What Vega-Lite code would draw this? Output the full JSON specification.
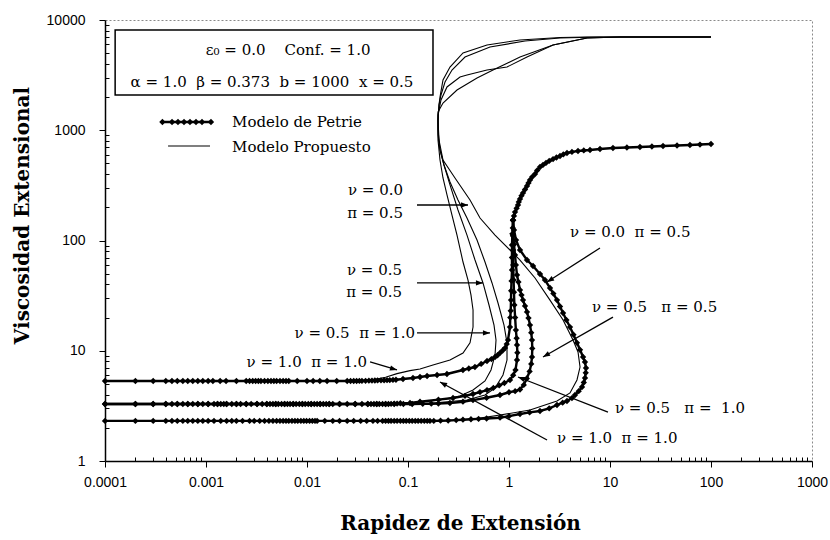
{
  "$schema": "https://vega.github.io/schema/vega-lite/v6.json",
  "width": 707,
  "height": 441,
  "autosize": {"type": "none"},
  "padding": {"left": 105, "top": 20, "right": 18, "bottom": 79},
  "background": "white",
  "config": {
    "view": {"stroke": "#8a8a8a", "strokeDash": [2, 2], "strokeWidth": 1},
    "axis": {"domainColor": "black", "tickColor": "black", "labelColor": "black", "titleColor": "black", "grid": false}
  },
  "datasets": {
    "curvas": [
      {"id":"T1","m":"Petrie","x":0.0001,"y":5.32},{"id":"T1","m":"Petrie","x":0.0002,"y":5.32},{"id":"T1","m":"Petrie","x":0.0003,"y":5.32},{"id":"T1","m":"Petrie","x":0.0004,"y":5.32},{"id":"T1","m":"Petrie","x":0.00046,"y":5.32},{"id":"T1","m":"Petrie","x":0.00052,"y":5.32},{"id":"T1","m":"Petrie","x":0.00059,"y":5.32},{"id":"T1","m":"Petrie","x":0.00066,"y":5.32},{"id":"T1","m":"Petrie","x":0.00074,"y":5.32},{"id":"T1","m":"Petrie","x":0.00083,"y":5.32},{"id":"T1","m":"Petrie","x":0.00093,"y":5.32},{"id":"T1","m":"Petrie","x":0.00105,"y":5.32},{"id":"T1","m":"Petrie","x":0.00117,"y":5.32},{"id":"T1","m":"Petrie","x":0.00138,"y":5.32},{"id":"T1","m":"Petrie","x":0.00158,"y":5.32},{"id":"T1","m":"Petrie","x":0.002,"y":5.32},
      {"id":"T1","m":"Petrie","x":0.0025,"y":5.32},{"id":"T1","m":"Petrie","x":0.0027,"y":5.32},{"id":"T1","m":"Petrie","x":0.0029,"y":5.32},{"id":"T1","m":"Petrie","x":0.0031,"y":5.32},{"id":"T1","m":"Petrie","x":0.0033,"y":5.32},{"id":"T1","m":"Petrie","x":0.0035,"y":5.32},{"id":"T1","m":"Petrie","x":0.0038,"y":5.32},{"id":"T1","m":"Petrie","x":0.0041,"y":5.32},{"id":"T1","m":"Petrie","x":0.0044,"y":5.32},{"id":"T1","m":"Petrie","x":0.0047,"y":5.32},{"id":"T1","m":"Petrie","x":0.005,"y":5.32},{"id":"T1","m":"Petrie","x":0.0054,"y":5.32},{"id":"T1","m":"Petrie","x":0.0058,"y":5.32},{"id":"T1","m":"Petrie","x":0.0062,"y":5.32},{"id":"T1","m":"Petrie","x":0.0066,"y":5.32},
      {"id":"T1","m":"Petrie","x":0.008,"y":5.32},{"id":"T1","m":"Petrie","x":0.01,"y":5.32},{"id":"T1","m":"Petrie","x":0.0115,"y":5.32},{"id":"T1","m":"Petrie","x":0.0134,"y":5.32},{"id":"T1","m":"Petrie","x":0.0158,"y":5.32},{"id":"T1","m":"Petrie","x":0.0197,"y":5.32},
      {"id":"T1","m":"Petrie","x":0.025,"y":5.32},{"id":"T1","m":"Petrie","x":0.027,"y":5.32},{"id":"T1","m":"Petrie","x":0.029,"y":5.32},{"id":"T1","m":"Petrie","x":0.031,"y":5.32},{"id":"T1","m":"Petrie","x":0.033,"y":5.33},{"id":"T1","m":"Petrie","x":0.035,"y":5.33},{"id":"T1","m":"Petrie","x":0.038,"y":5.34},{"id":"T1","m":"Petrie","x":0.041,"y":5.35},{"id":"T1","m":"Petrie","x":0.044,"y":5.36},{"id":"T1","m":"Petrie","x":0.047,"y":5.37},{"id":"T1","m":"Petrie","x":0.05,"y":5.38},{"id":"T1","m":"Petrie","x":0.054,"y":5.39},{"id":"T1","m":"Petrie","x":0.058,"y":5.4},{"id":"T1","m":"Petrie","x":0.062,"y":5.41},{"id":"T1","m":"Petrie","x":0.066,"y":5.42},{"id":"T1","m":"Petrie","x":0.071,"y":5.44},{"id":"T1","m":"Petrie","x":0.076,"y":5.46},
      {"id":"T1","m":"Petrie","x":0.0892,"y":5.54},{"id":"T1","m":"Petrie","x":0.112,"y":5.66},{"id":"T1","m":"Petrie","x":0.1315,"y":5.78},{"id":"T1","m":"Petrie","x":0.1545,"y":5.9},{"id":"T1","m":"Petrie","x":0.194,"y":6.03},{"id":"T1","m":"Petrie","x":0.243,"y":6.15},{"id":"T1","m":"Petrie","x":0.35,"y":6.69},{"id":"T1","m":"Petrie","x":0.4,"y":6.9},{"id":"T1","m":"Petrie","x":0.46,"y":7.12},{"id":"T1","m":"Petrie","x":0.53,"y":7.6},{"id":"T1","m":"Petrie","x":0.606,"y":8.07},{"id":"T1","m":"Petrie","x":0.67,"y":8.4},{"id":"T1","m":"Petrie","x":0.727,"y":8.78},{"id":"T1","m":"Petrie","x":0.77,"y":9.1},{"id":"T1","m":"Petrie","x":0.815,"y":9.55},{"id":"T1","m":"Petrie","x":0.87,"y":10.1},{"id":"T1","m":"Petrie","x":0.913,"y":10.6},{"id":"T1","m":"Petrie","x":0.95,"y":11.5},{"id":"T1","m":"Petrie","x":0.977,"y":12.5},{"id":"T1","m":"Petrie","x":1.023,"y":16.4},{"id":"T1","m":"Petrie","x":1.03,"y":20},{"id":"T1","m":"Petrie","x":1.04,"y":23},{"id":"T1","m":"Petrie","x":1.047,"y":28.8},{"id":"T1","m":"Petrie","x":1.05,"y":35},{"id":"T1","m":"Petrie","x":1.06,"y":43},{"id":"T1","m":"Petrie","x":1.071,"y":54},{"id":"T1","m":"Petrie","x":1.07,"y":70},{"id":"T1","m":"Petrie","x":1.071,"y":91},{"id":"T1","m":"Petrie","x":1.08,"y":115},{"id":"T1","m":"Petrie","x":1.09,"y":130},{"id":"T1","m":"Petrie","x":1.096,"y":153},
      {"id":"T1","m":"Petrie","x":1.12,"y":167},{"id":"T1","m":"Petrie","x":1.147,"y":181},{"id":"T1","m":"Petrie","x":1.19,"y":196},{"id":"T1","m":"Petrie","x":1.228,"y":210},{"id":"T1","m":"Petrie","x":1.25,"y":224},{"id":"T1","m":"Petrie","x":1.285,"y":238},{"id":"T1","m":"Petrie","x":1.33,"y":255},{"id":"T1","m":"Petrie","x":1.376,"y":270},{"id":"T1","m":"Petrie","x":1.44,"y":290},{"id":"T1","m":"Petrie","x":1.507,"y":312},{"id":"T1","m":"Petrie","x":1.56,"y":333},{"id":"T1","m":"Petrie","x":1.614,"y":354},{"id":"T1","m":"Petrie","x":1.7,"y":378},{"id":"T1","m":"Petrie","x":1.81,"y":401},{"id":"T1","m":"Petrie","x":1.9,"y":432},{"id":"T1","m":"Petrie","x":2.027,"y":464},{"id":"T1","m":"Petrie","x":2.17,"y":485},{"id":"T1","m":"Petrie","x":2.324,"y":505},{"id":"T1","m":"Petrie","x":2.5,"y":527},{"id":"T1","m":"Petrie","x":2.73,"y":548},{"id":"T1","m":"Petrie","x":2.95,"y":566},{"id":"T1","m":"Petrie","x":3.2,"y":584},{"id":"T1","m":"Petrie","x":3.45,"y":604},{"id":"T1","m":"Petrie","x":3.75,"y":622},{"id":"T1","m":"Petrie","x":4.2,"y":636},{"id":"T1","m":"Petrie","x":4.82,"y":648},{"id":"T1","m":"Petrie","x":5.5,"y":656},{"id":"T1","m":"Petrie","x":6.34,"y":662},{"id":"T1","m":"Petrie","x":7.96,"y":676},{"id":"T1","m":"Petrie","x":10.7,"y":690},{"id":"T1","m":"Petrie","x":14.7,"y":698},{"id":"T1","m":"Petrie","x":19.8,"y":705},{"id":"T1","m":"Petrie","x":26,"y":712},{"id":"T1","m":"Petrie","x":33.5,"y":720},{"id":"T1","m":"Petrie","x":46.1,"y":727},{"id":"T1","m":"Petrie","x":61.9,"y":735},{"id":"T1","m":"Petrie","x":77.8,"y":742},{"id":"T1","m":"Petrie","x":100,"y":750},

      {"id":"T2","m":"Petrie","x":0.0001,"y":3.29},{"id":"T2","m":"Petrie","x":0.0002,"y":3.29},{"id":"T2","m":"Petrie","x":0.0003,"y":3.29},{"id":"T2","m":"Petrie","x":0.0004,"y":3.29},{"id":"T2","m":"Petrie","x":0.00046,"y":3.29},{"id":"T2","m":"Petrie","x":0.00052,"y":3.29},{"id":"T2","m":"Petrie","x":0.00059,"y":3.29},{"id":"T2","m":"Petrie","x":0.00066,"y":3.29},{"id":"T2","m":"Petrie","x":0.00074,"y":3.29},{"id":"T2","m":"Petrie","x":0.00083,"y":3.29},{"id":"T2","m":"Petrie","x":0.00093,"y":3.29},{"id":"T2","m":"Petrie","x":0.00105,"y":3.29},{"id":"T2","m":"Petrie","x":0.0012,"y":3.29},{"id":"T2","m":"Petrie","x":0.0013,"y":3.29},{"id":"T2","m":"Petrie","x":0.0014,"y":3.29},{"id":"T2","m":"Petrie","x":0.0015,"y":3.29},{"id":"T2","m":"Petrie","x":0.0016,"y":3.29},{"id":"T2","m":"Petrie","x":0.0018,"y":3.29},{"id":"T2","m":"Petrie","x":0.002,"y":3.29},{"id":"T2","m":"Petrie","x":0.0022,"y":3.29},{"id":"T2","m":"Petrie","x":0.0025,"y":3.29},{"id":"T2","m":"Petrie","x":0.0028,"y":3.29},{"id":"T2","m":"Petrie","x":0.0032,"y":3.29},{"id":"T2","m":"Petrie","x":0.0036,"y":3.29},
      {"id":"T2","m":"Petrie","x":0.004,"y":3.29},{"id":"T2","m":"Petrie","x":0.0043,"y":3.29},{"id":"T2","m":"Petrie","x":0.0046,"y":3.29},{"id":"T2","m":"Petrie","x":0.0049,"y":3.29},{"id":"T2","m":"Petrie","x":0.0052,"y":3.29},{"id":"T2","m":"Petrie","x":0.0056,"y":3.29},{"id":"T2","m":"Petrie","x":0.006,"y":3.29},{"id":"T2","m":"Petrie","x":0.0064,"y":3.29},{"id":"T2","m":"Petrie","x":0.0068,"y":3.29},{"id":"T2","m":"Petrie","x":0.0073,"y":3.29},{"id":"T2","m":"Petrie","x":0.0078,"y":3.29},{"id":"T2","m":"Petrie","x":0.0084,"y":3.29},{"id":"T2","m":"Petrie","x":0.009,"y":3.29},{"id":"T2","m":"Petrie","x":0.0096,"y":3.29},{"id":"T2","m":"Petrie","x":0.0103,"y":3.29},{"id":"T2","m":"Petrie","x":0.011,"y":3.29},{"id":"T2","m":"Petrie","x":0.0118,"y":3.29},{"id":"T2","m":"Petrie","x":0.0126,"y":3.29},{"id":"T2","m":"Petrie","x":0.0135,"y":3.29},{"id":"T2","m":"Petrie","x":0.0145,"y":3.29},{"id":"T2","m":"Petrie","x":0.0155,"y":3.29},{"id":"T2","m":"Petrie","x":0.0166,"y":3.29},{"id":"T2","m":"Petrie","x":0.018,"y":3.29},
      {"id":"T2","m":"Petrie","x":0.021,"y":3.29},{"id":"T2","m":"Petrie","x":0.025,"y":3.29},{"id":"T2","m":"Petrie","x":0.03,"y":3.29},{"id":"T2","m":"Petrie","x":0.035,"y":3.29},{"id":"T2","m":"Petrie","x":0.04,"y":3.29},{"id":"T2","m":"Petrie","x":0.043,"y":3.29},{"id":"T2","m":"Petrie","x":0.046,"y":3.29},{"id":"T2","m":"Petrie","x":0.049,"y":3.29},{"id":"T2","m":"Petrie","x":0.052,"y":3.29},{"id":"T2","m":"Petrie","x":0.056,"y":3.29},{"id":"T2","m":"Petrie","x":0.06,"y":3.29},{"id":"T2","m":"Petrie","x":0.064,"y":3.29},{"id":"T2","m":"Petrie","x":0.068,"y":3.3},{"id":"T2","m":"Petrie","x":0.073,"y":3.31},{"id":"T2","m":"Petrie","x":0.078,"y":3.32},{"id":"T2","m":"Petrie","x":0.084,"y":3.34},
      {"id":"T2","m":"Petrie","x":0.1047,"y":3.36},{"id":"T2","m":"Petrie","x":0.1315,"y":3.45},{"id":"T2","m":"Petrie","x":0.2,"y":3.6},{"id":"T2","m":"Petrie","x":0.279,"y":3.73},{"id":"T2","m":"Petrie","x":0.367,"y":3.9},{"id":"T2","m":"Petrie","x":0.44,"y":4.05},{"id":"T2","m":"Petrie","x":0.516,"y":4.22},{"id":"T2","m":"Petrie","x":0.606,"y":4.4},{"id":"T2","m":"Petrie","x":0.7,"y":4.6},{"id":"T2","m":"Petrie","x":0.8,"y":4.85},{"id":"T2","m":"Petrie","x":0.9,"y":5.1},{"id":"T2","m":"Petrie","x":1.023,"y":5.43},{"id":"T2","m":"Petrie","x":1.1,"y":6.0},{"id":"T2","m":"Petrie","x":1.16,"y":6.69},{"id":"T2","m":"Petrie","x":1.2,"y":8.24},{"id":"T2","m":"Petrie","x":1.21,"y":9.6},{"id":"T2","m":"Petrie","x":1.2,"y":11.3},{"id":"T2","m":"Petrie","x":1.19,"y":13},{"id":"T2","m":"Petrie","x":1.17,"y":15.4},{"id":"T2","m":"Petrie","x":1.15,"y":20},{"id":"T2","m":"Petrie","x":1.13,"y":26},{"id":"T2","m":"Petrie","x":1.12,"y":34},{"id":"T2","m":"Petrie","x":1.11,"y":43.8},{"id":"T2","m":"Petrie","x":1.1,"y":60},{"id":"T2","m":"Petrie","x":1.096,"y":82},{"id":"T2","m":"Petrie","x":1.096,"y":110},{"id":"T2","m":"Petrie","x":1.096,"y":153},

      {"id":"T3","m":"Petrie","x":0.0001,"y":3.29},{"id":"T3","m":"Petrie","x":0.0002,"y":3.29},{"id":"T3","m":"Petrie","x":0.0003,"y":3.29},{"id":"T3","m":"Petrie","x":0.0004,"y":3.29},{"id":"T3","m":"Petrie","x":0.00052,"y":3.29},{"id":"T3","m":"Petrie","x":0.00066,"y":3.29},{"id":"T3","m":"Petrie","x":0.00083,"y":3.29},{"id":"T3","m":"Petrie","x":0.00105,"y":3.29},{"id":"T3","m":"Petrie","x":0.0013,"y":3.29},{"id":"T3","m":"Petrie","x":0.0016,"y":3.29},{"id":"T3","m":"Petrie","x":0.002,"y":3.29},{"id":"T3","m":"Petrie","x":0.0025,"y":3.29},{"id":"T3","m":"Petrie","x":0.0032,"y":3.29},{"id":"T3","m":"Petrie","x":0.004,"y":3.29},{"id":"T3","m":"Petrie","x":0.0049,"y":3.29},{"id":"T3","m":"Petrie","x":0.006,"y":3.29},{"id":"T3","m":"Petrie","x":0.0073,"y":3.29},{"id":"T3","m":"Petrie","x":0.009,"y":3.29},{"id":"T3","m":"Petrie","x":0.011,"y":3.29},{"id":"T3","m":"Petrie","x":0.0135,"y":3.29},{"id":"T3","m":"Petrie","x":0.0166,"y":3.29},{"id":"T3","m":"Petrie","x":0.021,"y":3.29},{"id":"T3","m":"Petrie","x":0.03,"y":3.29},{"id":"T3","m":"Petrie","x":0.04,"y":3.29},{"id":"T3","m":"Petrie","x":0.049,"y":3.29},{"id":"T3","m":"Petrie","x":0.06,"y":3.29},{"id":"T3","m":"Petrie","x":0.073,"y":3.29},{"id":"T3","m":"Petrie","x":0.09,"y":3.29},{"id":"T3","m":"Petrie","x":0.11,"y":3.29},{"id":"T3","m":"Petrie","x":0.14,"y":3.3},{"id":"T3","m":"Petrie","x":0.17,"y":3.31},{"id":"T3","m":"Petrie","x":0.2,"y":3.32},
      {"id":"T3","m":"Petrie","x":0.26,"y":3.36},{"id":"T3","m":"Petrie","x":0.35,"y":3.45},{"id":"T3","m":"Petrie","x":0.44,"y":3.57},{"id":"T3","m":"Petrie","x":0.6,"y":3.75},{"id":"T3","m":"Petrie","x":0.815,"y":3.97},{"id":"T3","m":"Petrie","x":1.0,"y":4.2},{"id":"T3","m":"Petrie","x":1.15,"y":4.3},{"id":"T3","m":"Petrie","x":1.285,"y":4.45},{"id":"T3","m":"Petrie","x":1.4,"y":4.9},{"id":"T3","m":"Petrie","x":1.5,"y":5.6},{"id":"T3","m":"Petrie","x":1.6,"y":6.5},{"id":"T3","m":"Petrie","x":1.66,"y":7.6},{"id":"T3","m":"Petrie","x":1.69,"y":8.78},{"id":"T3","m":"Petrie","x":1.7,"y":10.5},{"id":"T3","m":"Petrie","x":1.69,"y":12.5},{"id":"T3","m":"Petrie","x":1.66,"y":14.6},{"id":"T3","m":"Petrie","x":1.614,"y":17.1},{"id":"T3","m":"Petrie","x":1.56,"y":19.8},{"id":"T3","m":"Petrie","x":1.507,"y":22.5},{"id":"T3","m":"Petrie","x":1.44,"y":25.5},{"id":"T3","m":"Petrie","x":1.376,"y":28.8},{"id":"T3","m":"Petrie","x":1.33,"y":32},{"id":"T3","m":"Petrie","x":1.285,"y":35.6},{"id":"T3","m":"Petrie","x":1.24,"y":42},{"id":"T3","m":"Petrie","x":1.2,"y":48.7},{"id":"T3","m":"Petrie","x":1.17,"y":60},{"id":"T3","m":"Petrie","x":1.147,"y":74},{"id":"T3","m":"Petrie","x":1.12,"y":92},{"id":"T3","m":"Petrie","x":1.096,"y":112},{"id":"T3","m":"Petrie","x":1.096,"y":153},

      {"id":"T4","m":"Petrie","x":0.0001,"y":2.31},{"id":"T4","m":"Petrie","x":0.0002,"y":2.31},{"id":"T4","m":"Petrie","x":0.0003,"y":2.31},{"id":"T4","m":"Petrie","x":0.0004,"y":2.31},{"id":"T4","m":"Petrie","x":0.00046,"y":2.31},{"id":"T4","m":"Petrie","x":0.00052,"y":2.31},{"id":"T4","m":"Petrie","x":0.00059,"y":2.31},{"id":"T4","m":"Petrie","x":0.00066,"y":2.31},{"id":"T4","m":"Petrie","x":0.00074,"y":2.31},{"id":"T4","m":"Petrie","x":0.00083,"y":2.31},{"id":"T4","m":"Petrie","x":0.00093,"y":2.31},{"id":"T4","m":"Petrie","x":0.00105,"y":2.31},{"id":"T4","m":"Petrie","x":0.0012,"y":2.31},{"id":"T4","m":"Petrie","x":0.0014,"y":2.31},{"id":"T4","m":"Petrie","x":0.0016,"y":2.31},{"id":"T4","m":"Petrie","x":0.0018,"y":2.31},{"id":"T4","m":"Petrie","x":0.002,"y":2.31},{"id":"T4","m":"Petrie","x":0.0023,"y":2.31},{"id":"T4","m":"Petrie","x":0.0027,"y":2.31},{"id":"T4","m":"Petrie","x":0.003,"y":2.31},{"id":"T4","m":"Petrie","x":0.0034,"y":2.31},{"id":"T4","m":"Petrie","x":0.0038,"y":2.31},{"id":"T4","m":"Petrie","x":0.0042,"y":2.31},{"id":"T4","m":"Petrie","x":0.0046,"y":2.31},{"id":"T4","m":"Petrie","x":0.005,"y":2.31},
      {"id":"T4","m":"Petrie","x":0.0054,"y":2.31},{"id":"T4","m":"Petrie","x":0.0058,"y":2.31},{"id":"T4","m":"Petrie","x":0.0062,"y":2.31},{"id":"T4","m":"Petrie","x":0.0066,"y":2.31},{"id":"T4","m":"Petrie","x":0.0071,"y":2.31},{"id":"T4","m":"Petrie","x":0.0076,"y":2.31},{"id":"T4","m":"Petrie","x":0.0081,"y":2.31},{"id":"T4","m":"Petrie","x":0.0087,"y":2.31},{"id":"T4","m":"Petrie","x":0.0093,"y":2.31},{"id":"T4","m":"Petrie","x":0.0099,"y":2.31},{"id":"T4","m":"Petrie","x":0.0106,"y":2.31},{"id":"T4","m":"Petrie","x":0.0113,"y":2.31},{"id":"T4","m":"Petrie","x":0.012,"y":2.31},{"id":"T4","m":"Petrie","x":0.0126,"y":2.31},{"id":"T4","m":"Petrie","x":0.015,"y":2.31},{"id":"T4","m":"Petrie","x":0.018,"y":2.31},{"id":"T4","m":"Petrie","x":0.021,"y":2.31},{"id":"T4","m":"Petrie","x":0.025,"y":2.31},{"id":"T4","m":"Petrie","x":0.029,"y":2.31},{"id":"T4","m":"Petrie","x":0.034,"y":2.31},{"id":"T4","m":"Petrie","x":0.039,"y":2.31},{"id":"T4","m":"Petrie","x":0.045,"y":2.31},{"id":"T4","m":"Petrie","x":0.05,"y":2.31},
      {"id":"T4","m":"Petrie","x":0.056,"y":2.31},{"id":"T4","m":"Petrie","x":0.06,"y":2.31},{"id":"T4","m":"Petrie","x":0.064,"y":2.31},{"id":"T4","m":"Petrie","x":0.068,"y":2.31},{"id":"T4","m":"Petrie","x":0.073,"y":2.31},{"id":"T4","m":"Petrie","x":0.078,"y":2.31},{"id":"T4","m":"Petrie","x":0.084,"y":2.31},{"id":"T4","m":"Petrie","x":0.09,"y":2.31},{"id":"T4","m":"Petrie","x":0.096,"y":2.31},{"id":"T4","m":"Petrie","x":0.103,"y":2.31},{"id":"T4","m":"Petrie","x":0.11,"y":2.31},{"id":"T4","m":"Petrie","x":0.118,"y":2.31},{"id":"T4","m":"Petrie","x":0.126,"y":2.31},{"id":"T4","m":"Petrie","x":0.135,"y":2.31},{"id":"T4","m":"Petrie","x":0.145,"y":2.31},{"id":"T4","m":"Petrie","x":0.155,"y":2.31},{"id":"T4","m":"Petrie","x":0.165,"y":2.31},{"id":"T4","m":"Petrie","x":0.18,"y":2.31},{"id":"T4","m":"Petrie","x":0.21,"y":2.32},{"id":"T4","m":"Petrie","x":0.25,"y":2.33},{"id":"T4","m":"Petrie","x":0.3,"y":2.35},{"id":"T4","m":"Petrie","x":0.35,"y":2.37},{"id":"T4","m":"Petrie","x":0.42,"y":2.39},{"id":"T4","m":"Petrie","x":0.5,"y":2.41},
      {"id":"T4","m":"Petrie","x":0.6,"y":2.43},{"id":"T4","m":"Petrie","x":0.815,"y":2.47},{"id":"T4","m":"Petrie","x":1.0,"y":2.55},{"id":"T4","m":"Petrie","x":1.285,"y":2.67},{"id":"T4","m":"Petrie","x":1.6,"y":2.76},{"id":"T4","m":"Petrie","x":2.027,"y":2.84},{"id":"T4","m":"Petrie","x":2.5,"y":3.0},{"id":"T4","m":"Petrie","x":2.987,"y":3.22},{"id":"T4","m":"Petrie","x":3.4,"y":3.38},{"id":"T4","m":"Petrie","x":3.75,"y":3.5},{"id":"T4","m":"Petrie","x":4.2,"y":3.72},{"id":"T4","m":"Petrie","x":4.504,"y":3.97},{"id":"T4","m":"Petrie","x":4.9,"y":4.3},{"id":"T4","m":"Petrie","x":5.28,"y":4.69},{"id":"T4","m":"Petrie","x":5.5,"y":5.15},{"id":"T4","m":"Petrie","x":5.656,"y":5.66},{"id":"T4","m":"Petrie","x":5.75,"y":6.3},{"id":"T4","m":"Petrie","x":5.787,"y":6.98},{"id":"T4","m":"Petrie","x":5.65,"y":7.9},{"id":"T4","m":"Petrie","x":5.41,"y":8.78},{"id":"T4","m":"Petrie","x":5.05,"y":10.2},{"id":"T4","m":"Petrie","x":4.71,"y":11.8},{"id":"T4","m":"Petrie","x":4.35,"y":14},{"id":"T4","m":"Petrie","x":4.018,"y":16.4},{"id":"T4","m":"Petrie","x":3.7,"y":19},{"id":"T4","m":"Petrie","x":3.43,"y":22},{"id":"T4","m":"Petrie","x":3.2,"y":25.2},{"id":"T4","m":"Petrie","x":2.987,"y":28.8},{"id":"T4","m":"Petrie","x":2.75,"y":33},{"id":"T4","m":"Petrie","x":2.546,"y":37.1},{"id":"T4","m":"Petrie","x":2.27,"y":43.8},{"id":"T4","m":"Petrie","x":2.027,"y":49.7},{"id":"T4","m":"Petrie","x":1.73,"y":58.7},{"id":"T4","m":"Petrie","x":1.507,"y":66.5},{"id":"T4","m":"Petrie","x":1.285,"y":82},{"id":"T4","m":"Petrie","x":1.173,"y":101},{"id":"T4","m":"Petrie","x":1.121,"y":124.5},{"id":"T4","m":"Petrie","x":1.096,"y":153},

      {"id":"R1","m":"Propuesto","x":0.0001,"y":5.32},{"id":"R1","m":"Propuesto","x":0.035,"y":5.32},{"id":"R1","m":"Propuesto","x":0.045,"y":5.45},{"id":"R1","m":"Propuesto","x":0.06,"y":5.75},{"id":"R1","m":"Propuesto","x":0.0778,"y":6.2},{"id":"R1","m":"Propuesto","x":0.1047,"y":6.6},{"id":"R1","m":"Propuesto","x":0.1315,"y":6.84},{"id":"R1","m":"Propuesto","x":0.1768,"y":7.43},{"id":"R1","m":"Propuesto","x":0.2605,"y":8.24},{"id":"R1","m":"Propuesto","x":0.3505,"y":9.55},{"id":"R1","m":"Propuesto","x":0.4111,"y":11.8},{"id":"R1","m":"Propuesto","x":0.4405,"y":16.4},{"id":"R1","m":"Propuesto","x":0.4405,"y":23.4},{"id":"R1","m":"Propuesto","x":0.4206,"y":32},{"id":"R1","m":"Propuesto","x":0.3927,"y":43.8},{"id":"R1","m":"Propuesto","x":0.3505,"y":63.8},{"id":"R1","m":"Propuesto","x":0.3056,"y":112},{"id":"R1","m":"Propuesto","x":0.2726,"y":170},{"id":"R1","m":"Propuesto","x":0.2433,"y":259},{"id":"R1","m":"Propuesto","x":0.2221,"y":369},{"id":"R1","m":"Propuesto","x":0.2074,"y":537},{"id":"R1","m":"Propuesto","x":0.1982,"y":816},{"id":"R1","m":"Propuesto","x":0.1982,"y":1239},{"id":"R1","m":"Propuesto","x":0.2027,"y":1694},{"id":"R1","m":"Propuesto","x":0.2074,"y":2002},{"id":"R1","m":"Propuesto","x":0.2221,"y":2856},{"id":"R1","m":"Propuesto","x":0.2605,"y":3747},{"id":"R1","m":"Propuesto","x":0.3505,"y":5020},{"id":"R1","m":"Propuesto","x":0.6057,"y":5934},{"id":"R1","m":"Propuesto","x":1.285,"y":6586},{"id":"R1","m":"Propuesto","x":3.199,"y":6940},{"id":"R1","m":"Propuesto","x":5.92,"y":7012},{"id":"R1","m":"Propuesto","x":100,"y":7012},

      {"id":"R2","m":"Propuesto","x":0.0001,"y":3.29},{"id":"R2","m":"Propuesto","x":0.08,"y":3.29},{"id":"R2","m":"Propuesto","x":0.1315,"y":3.43},{"id":"R2","m":"Propuesto","x":0.2074,"y":3.57},{"id":"R2","m":"Propuesto","x":0.3272,"y":3.89},{"id":"R2","m":"Propuesto","x":0.4405,"y":4.4},{"id":"R2","m":"Propuesto","x":0.5787,"y":5.32},{"id":"R2","m":"Propuesto","x":0.6636,"y":6.69},{"id":"R2","m":"Propuesto","x":0.727,"y":9.15},{"id":"R2","m":"Propuesto","x":0.7438,"y":12.5},{"id":"R2","m":"Propuesto","x":0.7106,"y":17.1},{"id":"R2","m":"Propuesto","x":0.6339,"y":26},{"id":"R2","m":"Propuesto","x":0.5529,"y":41.2},{"id":"R2","m":"Propuesto","x":0.4608,"y":66.5},{"id":"R2","m":"Propuesto","x":0.3838,"y":112},{"id":"R2","m":"Propuesto","x":0.3126,"y":189},{"id":"R2","m":"Propuesto","x":0.2605,"y":319},{"id":"R2","m":"Propuesto","x":0.2272,"y":484},{"id":"R2","m":"Propuesto","x":0.2074,"y":662},{"id":"R2","m":"Propuesto","x":0.1982,"y":906},{"id":"R2","m":"Propuesto","x":0.1982,"y":1375},{"id":"R2","m":"Propuesto","x":0.2122,"y":1881},{"id":"R2","m":"Propuesto","x":0.2433,"y":2469},{"id":"R2","m":"Propuesto","x":0.3272,"y":3041},{"id":"R2","m":"Propuesto","x":0.3838,"y":3171},{"id":"R2","m":"Propuesto","x":0.6057,"y":3520},{"id":"R2","m":"Propuesto","x":0.9555,"y":3747},{"id":"R2","m":"Propuesto","x":1.507,"y":4617},{"id":"R2","m":"Propuesto","x":2.73,"y":5934},{"id":"R2","m":"Propuesto","x":5.92,"y":6867},{"id":"R2","m":"Propuesto","x":12.6,"y":7012},{"id":"R2","m":"Propuesto","x":100,"y":7012},

      {"id":"R3","m":"Propuesto","x":0.0001,"y":3.29},{"id":"R3","m":"Propuesto","x":0.1047,"y":3.29},{"id":"R3","m":"Propuesto","x":0.1768,"y":3.36},{"id":"R3","m":"Propuesto","x":0.3838,"y":3.57},{"id":"R3","m":"Propuesto","x":0.5787,"y":3.97},{"id":"R3","m":"Propuesto","x":0.727,"y":4.59},{"id":"R3","m":"Propuesto","x":0.8721,"y":6.03},{"id":"R3","m":"Propuesto","x":0.9555,"y":8.24},{"id":"R3","m":"Propuesto","x":0.9555,"y":11.8},{"id":"R3","m":"Propuesto","x":0.8923,"y":17.1},{"id":"R3","m":"Propuesto","x":0.7784,"y":27.1},{"id":"R3","m":"Propuesto","x":0.679,"y":41.2},{"id":"R3","m":"Propuesto","x":0.5787,"y":63.8},{"id":"R3","m":"Propuesto","x":0.4823,"y":101},{"id":"R3","m":"Propuesto","x":0.3838,"y":160},{"id":"R3","m":"Propuesto","x":0.3126,"y":233},{"id":"R3","m":"Propuesto","x":0.2605,"y":339},{"id":"R3","m":"Propuesto","x":0.2272,"y":484},{"id":"R3","m":"Propuesto","x":0.2074,"y":662},{"id":"R3","m":"Propuesto","x":0.1982,"y":1005},{"id":"R3","m":"Propuesto","x":0.1982,"y":1464},{"id":"R3","m":"Propuesto","x":0.2221,"y":1767},{"id":"R3","m":"Propuesto","x":0.3056,"y":2318},{"id":"R3","m":"Propuesto","x":0.4823,"y":2978},{"id":"R3","m":"Propuesto","x":0.6946,"y":3520},{"id":"R3","m":"Propuesto","x":1.285,"y":4617},{"id":"R3","m":"Propuesto","x":2.73,"y":5934},{"id":"R3","m":"Propuesto","x":5.92,"y":6867},{"id":"R3","m":"Propuesto","x":12.6,"y":7012},{"id":"R3","m":"Propuesto","x":100,"y":7012},

      {"id":"R4","m":"Propuesto","x":0.0001,"y":2.31},{"id":"R4","m":"Propuesto","x":0.3,"y":2.33},{"id":"R4","m":"Propuesto","x":0.5164,"y":2.45},{"id":"R4","m":"Propuesto","x":0.8146,"y":2.61},{"id":"R4","m":"Propuesto","x":1.614,"y":2.9},{"id":"R4","m":"Propuesto","x":2.987,"y":3.5},{"id":"R4","m":"Propuesto","x":4.018,"y":4.14},{"id":"R4","m":"Propuesto","x":4.71,"y":5.43},{"id":"R4","m":"Propuesto","x":5.05,"y":7.12},{"id":"R4","m":"Propuesto","x":4.823,"y":9.74},{"id":"R4","m":"Propuesto","x":4.303,"y":12.5},{"id":"R4","m":"Propuesto","x":3.43,"y":19},{"id":"R4","m":"Propuesto","x":2.546,"y":28.8},{"id":"R4","m":"Propuesto","x":1.81,"y":45.7},{"id":"R4","m":"Propuesto","x":1.285,"y":66.5},{"id":"R4","m":"Propuesto","x":1.023,"y":82},{"id":"R4","m":"Propuesto","x":0.727,"y":112},{"id":"R4","m":"Propuesto","x":0.5164,"y":160},{"id":"R4","m":"Propuesto","x":0.4111,"y":233},{"id":"R4","m":"Propuesto","x":0.2919,"y":369},{"id":"R4","m":"Propuesto","x":0.2221,"y":537},{"id":"R4","m":"Propuesto","x":0.2027,"y":816},{"id":"R4","m":"Propuesto","x":0.1982,"y":1239},{"id":"R4","m":"Propuesto","x":0.2027,"y":1694},{"id":"R4","m":"Propuesto","x":0.2122,"y":2088},{"id":"R4","m":"Propuesto","x":0.2325,"y":2739},{"id":"R4","m":"Propuesto","x":0.2726,"y":3520},{"id":"R4","m":"Propuesto","x":0.3667,"y":4617},{"id":"R4","m":"Propuesto","x":0.6487,"y":5690},{"id":"R4","m":"Propuesto","x":1.44,"y":6450},{"id":"R4","m":"Propuesto","x":3.199,"y":6867},{"id":"R4","m":"Propuesto","x":7.96,"y":7012},{"id":"R4","m":"Propuesto","x":100,"y":7012},

      {"id":"LT","m":"Petrie","x":0.00037,"y":1188},{"id":"LT","m":"Petrie","x":0.000461,"y":1188},{"id":"LT","m":"Petrie","x":0.000528,"y":1188},{"id":"LT","m":"Petrie","x":0.000606,"y":1188},{"id":"LT","m":"Petrie","x":0.000694,"y":1188},{"id":"LT","m":"Petrie","x":0.000796,"y":1188},{"id":"LT","m":"Petrie","x":0.000913,"y":1188},{"id":"LT","m":"Petrie","x":0.00112,"y":1188},
      {"id":"LR","m":"Propuesto","x":0.000421,"y":720},{"id":"LR","m":"Propuesto","x":0.001096,"y":720}
    ],
    "textos": [
      {"t":"ν = 0.0","g":"izq","x":0.0892,"y":287},
      {"t":"π = 0.5","g":"izq","x":0.0892,"y":177.6},
      {"t":"ν = 0.5","g":"izq","x":0.0872,"y":54},
      {"t":"π = 0.5","g":"izq","x":0.0872,"y":34.1},
      {"t":"ν = 0.5\u00a0\u00a0π = 1.0","g":"izq","x":0.1173,"y":14.5},
      {"t":"ν = 1.0\u00a0\u00a0π = 1.0","g":"izq","x":0.0393,"y":7.91},
      {"t":"ν = 0.0\u00a0\u00a0π = 0.5","g":"der","x":4.018,"y":119.4},
      {"t":"ν = 0.5\u00a0\u00a0\u00a0π = 0.5","g":"der","x":6.63,"y":24.9},
      {"t":"ν = 0.5\u00a0\u00a0\u00a0π =\u00a0\u00a01.0","g":"der","x":11.2,"y":3.03},
      {"t":"ν = 1.0\u00a0\u00a0π = 1.0","g":"der","x":2.987,"y":1.617},
      {"t":"Modelo de Petrie","g":"der","x":0.00181,"y":1188},
      {"t":"Modelo Propuesto","g":"der","x":0.00181,"y":705},
      {"t":"ε₀ = 0.0\u00a0\u00a0\u00a0\u00a0Conf. = 1.0","g":"centro","x":0.0065,"y":5344},
      {"t":"α = 1.0\u00a0\u00a0β = 0.373\u00a0\u00a0b = 1000\u00a0\u00a0x = 0.5","g":"centro","x":0.0045,"y":2739}
    ],
    "flechas": [
      {"x0":0.1228,"y0":210,"x":0.3927,"y":210},
      {"x0":0.1228,"y0":41.2,"x":0.5529,"y":41.2},
      {"x0":0.1228,"y0":14.5,"x":0.6487,"y":14.5},
      {"x0":0.0421,"y0":7.91,"x":0.0778,"y":6.69},
      {"x0":7.96,"y0":85.5,"x":2.38,"y":42.0},
      {"x0":10.7,"y0":20.2,"x":2.17,"y":8.78},
      {"x0":9.55,"y0":2.78,"x":1.228,"y":5.78},
      {"x0":2.38,"y0":1.55,"x":0.2074,"y":5.21}
    ],
    "recuadro": [
      {"x":0.000126,"y":2088,"x2":0.1768,"y2":8118}
    ]
  },
  "encoding": {
    "x": {
      "field": "x", "type": "quantitative",
      "scale": {"type": "log", "domain": [0.0001, 1000], "nice": false},
      "axis": {
        "title": "Rapidez de Extensión",
        "titleFont": "DejaVu Serif", "titleFontWeight": "bold", "titleFontSize": 20,
        "titleX": 355, "titleY": 62, "titleAlign": "center", "titleBaseline": "middle",
        "values": [0.0001,0.0002,0.0003,0.0004,0.0005,0.0006,0.0007,0.0008,0.0009,0.001,0.002,0.003,0.004,0.005,0.006,0.007,0.008,0.009,0.01,0.02,0.03,0.04,0.05,0.06,0.07,0.08,0.09,0.1,0.2,0.3,0.4,0.5,0.6,0.7,0.8,0.9,1,2,3,4,5,6,7,8,9,10,20,30,40,50,60,70,80,90,100,200,300,400,500,600,700,800,900,1000],
        "format": "~g",
        "labelExpr": "abs(log(datum.value)/LN10 - round(log(datum.value)/LN10)) < 0.001 ? datum.label : ''",
        "tickSize": {"condition": {"test": "abs(log(datum.value)/LN10 - round(log(datum.value)/LN10)) < 0.001", "value": 6}, "value": -4},
        "labelFont": "Liberation Sans", "labelFontSize": 14, "labelPadding": 8,
        "labelOverlap": false, "labelFlush": false, "labelBound": false,
        "domainWidth": 1.5, "tickWidth": 1
      }
    },
    "y": {
      "field": "y", "type": "quantitative",
      "scale": {"type": "log", "domain": [1, 10000], "nice": false},
      "axis": {
        "title": "Viscosidad Extensional",
        "titleFont": "DejaVu Serif", "titleFontWeight": "bold", "titleFontSize": 20,
        "titleX": -83, "titleY": 195, "titleAngle": -90, "titleAlign": "center", "titleBaseline": "middle",
        "values": [1,2,3,4,5,6,7,8,9,10,20,30,40,50,60,70,80,90,100,200,300,400,500,600,700,800,900,1000,2000,3000,4000,5000,6000,7000,8000,9000,10000],
        "format": "~g",
        "labelExpr": "abs(log(datum.value)/LN10 - round(log(datum.value)/LN10)) < 0.001 ? datum.label : ''",
        "tickSize": {"condition": {"test": "abs(log(datum.value)/LN10 - round(log(datum.value)/LN10)) < 0.001", "value": 6}, "value": -4},
        "labelFont": "Liberation Sans", "labelFontSize": 14, "labelPadding": 14,
        "labelOverlap": false, "labelFlush": false, "labelBound": false,
        "domainWidth": 1.5, "tickWidth": 1
      }
    }
  },
  "layer": [
    {
      "data": {"name": "recuadro"},
      "mark": {"type": "rect", "fill": null, "stroke": "black", "strokeWidth": 1.5},
      "encoding": {"x2": {"field": "x2"}, "y2": {"field": "y2"}}
    },
    {
      "data": {"name": "curvas"},
      "transform": [{"filter": "datum.m == 'Propuesto'"}],
      "mark": {"type": "line", "color": "black", "strokeWidth": 1.1},
      "encoding": {"detail": {"field": "id"}, "order": {"value": null}}
    },
    {
      "data": {"name": "curvas"},
      "transform": [{"filter": "datum.m == 'Petrie'"}],
      "mark": {"type": "line", "color": "black", "strokeWidth": 2.4},
      "encoding": {"detail": {"field": "id"}, "order": {"value": null}}
    },
    {
      "data": {"name": "curvas"},
      "transform": [{"filter": "datum.m == 'Petrie'"}],
      "mark": {"type": "point", "shape": "diamond", "filled": true, "color": "black", "size": 40, "opacity": 1},
      "encoding": {}
    },
    {
      "data": {"name": "flechas"},
      "mark": {"type": "rule", "color": "black", "strokeWidth": 1.3},
      "encoding": {"x2": {"field": "x0"}, "y2": {"field": "y0"}}
    },
    {
      "data": {"name": "flechas"},
      "transform": [{"calculate": "atan2(-110.25*(log(datum.y)-log(datum.y0))/LN10, 101*(log(datum.x)-log(datum.x0))/LN10)*180/PI", "as": "ang"}],
      "mark": {"type": "point", "shape": "M0,0L-2,-0.75L-2,0.75Z", "filled": true, "color": "black", "size": 50, "opacity": 1},
      "encoding": {"angle": {"field": "ang", "type": "quantitative", "scale": null}}
    },
    {
      "data": {"name": "textos"},
      "transform": [{"filter": "datum.g == 'izq'"}],
      "mark": {"type": "text", "align": "right", "baseline": "middle", "font": "DejaVu Serif", "fontSize": 15, "color": "black"},
      "encoding": {"text": {"field": "t"}}
    },
    {
      "data": {"name": "textos"},
      "transform": [{"filter": "datum.g == 'der'"}],
      "mark": {"type": "text", "align": "left", "baseline": "middle", "font": "DejaVu Serif", "fontSize": 15, "color": "black"},
      "encoding": {"text": {"field": "t"}}
    },
    {
      "data": {"name": "textos"},
      "transform": [{"filter": "datum.g == 'centro'"}],
      "mark": {"type": "text", "align": "center", "baseline": "middle", "font": "DejaVu Serif", "fontSize": 15, "color": "black"},
      "encoding": {"text": {"field": "t"}}
    }
  ]
}
